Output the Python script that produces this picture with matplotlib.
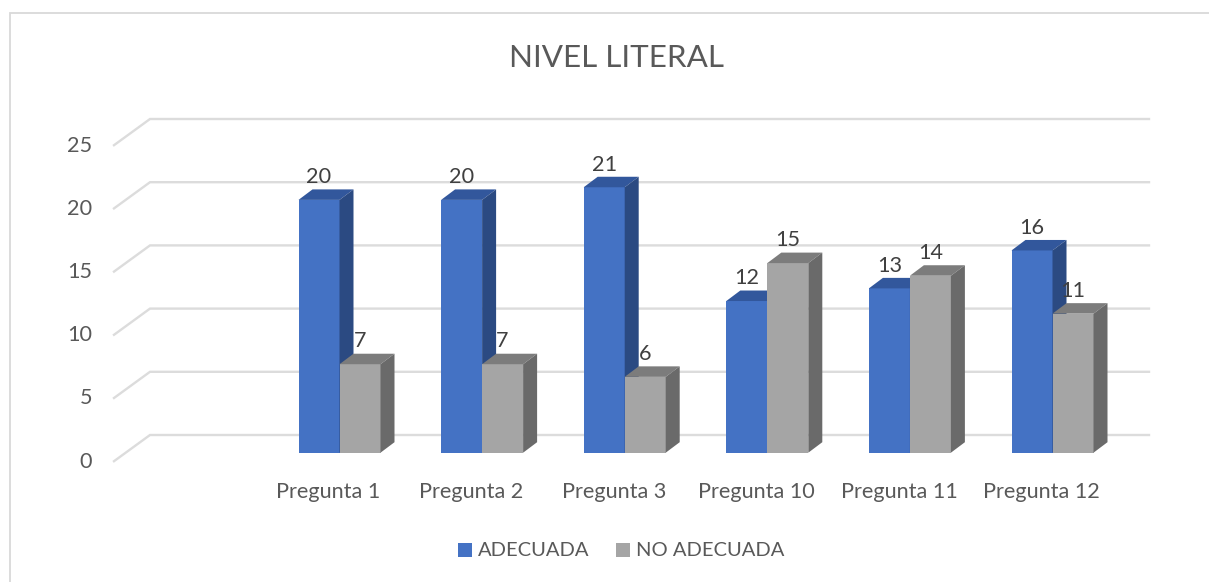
import matplotlib
matplotlib.use("Agg")
import matplotlib.pyplot as plt
from matplotlib.patches import Polygon, Rectangle

categories = ["Pregunta 1", "Pregunta 2", "Pregunta 3", "Pregunta 10", "Pregunta 11", "Pregunta 12"]
adecuada = [20, 20, 21, 12, 13, 16]
no_adecuada = [7, 7, 6, 15, 14, 11]
y_ticks = [0, 5, 10, 15, 20, 25]

W, H = 1209, 582
PX_X = 142.6      # pixels per category
PX_Y = 12.64      # pixels per value unit
X0_PX = 339.5     # pixel of the first category centre
Y0_PX = 452.7     # pixel of value 0 on the front plane
DX = 14 / PX_X    # bar depth
DY = 10.5 / PX_Y
BW = 41 / PX_X    # bar width

plt.rcParams["font.family"] = ["Lato", "DejaVu Sans"]
fig = plt.figure(figsize=(W / 100, H / 100), dpi=100, facecolor="white")
ax = fig.add_axes([0, 0, 1, 1])
ax.set_xlim(-X0_PX / PX_X, (W - X0_PX) / PX_X)
ax.set_ylim((Y0_PX - H) / PX_Y, Y0_PX / PX_Y)
ax.axis("off")

def px_x(p):
    return (p - X0_PX) / PX_X
def px_y(p):
    return (Y0_PX - p) / PX_Y

GRID = "#dcdcdc"
TEXT = "#595959"

# chart frame: left and top edges only
ax.plot([px_x(9.5), px_x(9.5), px_x(W)],
        [px_y(582), px_y(13), px_y(13)],
        color="#d9d9d9", lw=1.3, solid_joinstyle="miter", zorder=1)

# wall gridlines with the diagonal floor/side part
WALL = 17.7 / PX_Y
SIDE = 8.5 / PX_Y
for v in y_ticks:
    ax.plot([px_x(114), px_x(150), px_x(1149)],
            [v - SIDE, v + WALL, v + WALL],
            color=GRID, lw=1.7, solid_joinstyle="miter", zorder=1)
    ax.text(px_x(92), v - 9 / PX_Y, str(v), ha="right", va="center",
            fontsize=15.6, color=TEXT, zorder=6)

def bar3d(x, v, front, top, side):
    l, r = x, x + BW
    ax.bar(x, v, BW, align="edge", color=front, linewidth=0, zorder=3)
    ax.add_patch(Polygon([(l, v), (r, v), (r + DX, v + DY), (l + DX, v + DY)],
                         closed=True, fc=top, ec="none", zorder=3))
    ax.add_patch(Polygon([(r, 0), (r + DX, DY), (r + DX, v + DY), (r, v)],
                         closed=True, fc=side, ec="none", zorder=3))

for i, (a, n) in enumerate(zip(adecuada, no_adecuada)):
    bar3d(i - BW, a, "#4472c4", "#32579c", "#2b4a82")
    bar3d(i, n, "#a5a5a5", "#7c7c7c", "#6a6a6a")
    ax.text(i - BW / 2, a + 1.8, str(a), ha="center", va="center",
            fontsize=15.6, color="#404040", zorder=6)
    ax.text(i + BW / 2, n + 1.8, str(n), ha="center", va="center",
            fontsize=15.6, color="#404040", zorder=6)
    ax.text(i - 11 / PX_X, px_y(492), categories[i], ha="center", va="center",
            fontsize=15.6, color=TEXT, zorder=6)

ax.text(px_x(616.5), px_y(58), "NIVEL LITERAL", ha="center", va="center",
        fontsize=22.6, color=TEXT)

# legend
for lx, color, name, tx in [(458, "#4472c4", "ADECUADA", 477.5),
                            (616, "#a5a5a5", "NO ADECUADA", 636)]:
    ax.add_patch(Rectangle((px_x(lx), px_y(557)), 14 / PX_X, 14 / PX_Y, fc=color, ec="none"))
    ax.text(px_x(tx), px_y(551), name, ha="left", va="center", fontsize=14.5, color=TEXT)

fig.savefig("out.png", dpi=100)
